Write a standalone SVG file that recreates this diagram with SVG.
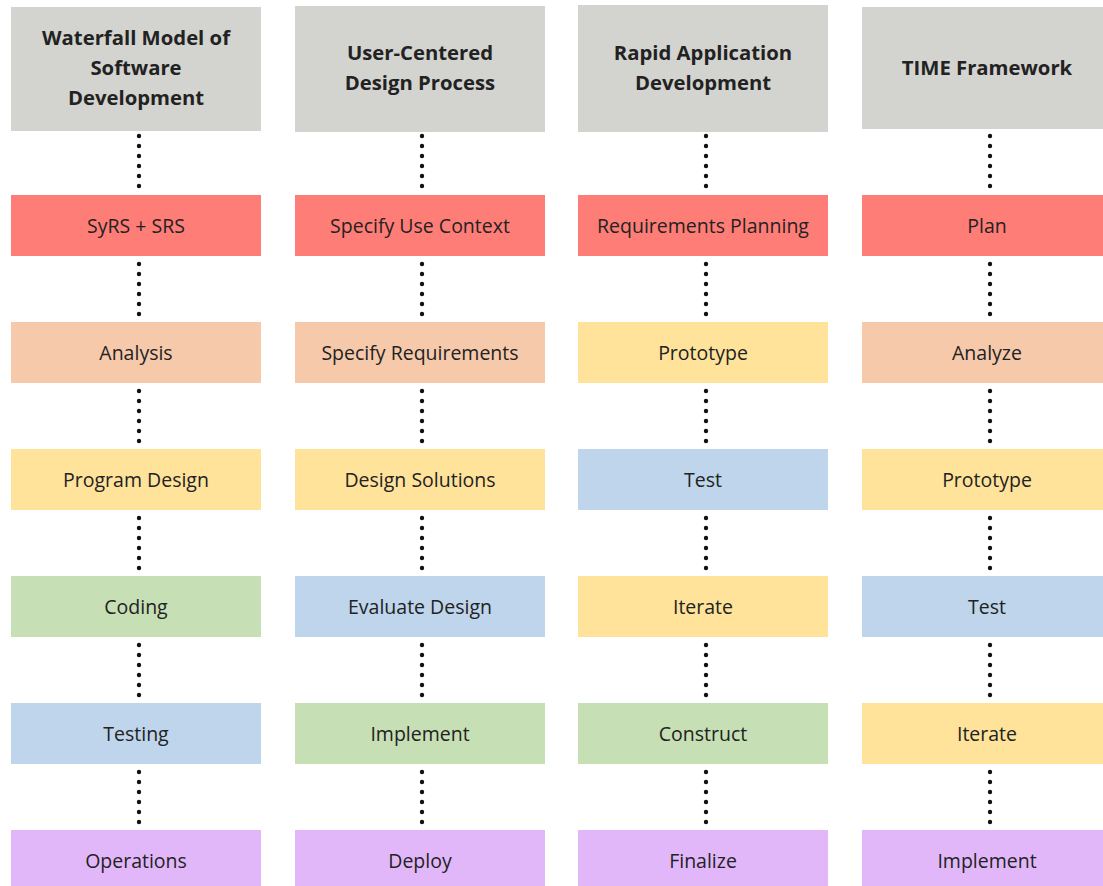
<svg xmlns="http://www.w3.org/2000/svg" width="1103" height="886" viewBox="0 0 1103 886">
<defs>
<style>
.hd{fill:#D3D3CF}
.red{fill:#FF7D77}
.pch{fill:#F6C9AB}
.yel{fill:#FFE39B}
.grn{fill:#C6DFB4}
.blu{fill:#BED5EC}
.pur{fill:#E2B7FA}
.ht{font-family:"Open Sans","Liberation Sans",sans-serif;font-weight:bold;font-size:20.3px;fill:#222;text-anchor:middle}
.bt{font-family:"Open Sans","Liberation Sans",sans-serif;font-size:19.5px;fill:#222;text-anchor:middle}
.dot{fill:#111}
</style>
<g id="dots6">
<circle cx="0" cy="0" r="2.2"/><circle cx="0" cy="10" r="2.2"/><circle cx="0" cy="20" r="2.2"/><circle cx="0" cy="30" r="2.2"/><circle cx="0" cy="40" r="2.2"/><circle cx="0" cy="50" r="2.2"/>
</g>
</defs>
<rect width="1103" height="886" fill="#fff"/>

<g id="connectors" class="dot">
<use href="#dots6" x="139" y="136"/><use href="#dots6" x="139" y="264"/><use href="#dots6" x="139" y="391"/><use href="#dots6" x="139" y="518"/><use href="#dots6" x="139" y="645"/><use href="#dots6" x="139" y="772"/>
<use href="#dots6" x="422" y="136"/><use href="#dots6" x="422" y="264"/><use href="#dots6" x="422" y="391"/><use href="#dots6" x="422" y="518"/><use href="#dots6" x="422" y="645"/><use href="#dots6" x="422" y="772"/>
<use href="#dots6" x="706" y="136"/><use href="#dots6" x="706" y="264"/><use href="#dots6" x="706" y="391"/><use href="#dots6" x="706" y="518"/><use href="#dots6" x="706" y="645"/><use href="#dots6" x="706" y="772"/>
<use href="#dots6" x="990" y="136"/><use href="#dots6" x="990" y="264"/><use href="#dots6" x="990" y="391"/><use href="#dots6" x="990" y="518"/><use href="#dots6" x="990" y="645"/><use href="#dots6" x="990" y="772"/>
</g>

<!-- Column 1 -->
<g id="c1-head"><rect class="hd" x="11" y="7" width="250" height="124"/>
<text class="ht" x="136" y="45">Waterfall Model of</text><text class="ht" x="136" y="75">Software</text><text class="ht" x="136" y="105">Development</text></g>
<g id="c1-n1"><rect class="red" x="11" y="195" width="250" height="61"/><text class="bt" x="136" y="233">SyRS + SRS</text></g>
<g id="c1-n2"><rect class="pch" x="11" y="322" width="250" height="61"/><text class="bt" x="136" y="360">Analysis</text></g>
<g id="c1-n3"><rect class="yel" x="11" y="449" width="250" height="61"/><text class="bt" x="136" y="487">Program Design</text></g>
<g id="c1-n4"><rect class="grn" x="11" y="576" width="250" height="61"/><text class="bt" x="136" y="614">Coding</text></g>
<g id="c1-n5"><rect class="blu" x="11" y="703" width="250" height="61"/><text class="bt" x="136" y="741">Testing</text></g>
<g id="c1-n6"><rect class="pur" x="11" y="830" width="250" height="61"/><text class="bt" x="136" y="868">Operations</text></g>

<!-- Column 2 -->
<g id="c2-head"><rect class="hd" x="295" y="6" width="250" height="126"/>
<text class="ht" x="420" y="60">User-Centered</text><text class="ht" x="420" y="90">Design Process</text></g>
<g id="c2-n1"><rect class="red" x="295" y="195" width="250" height="61"/><text class="bt" x="420" y="233">Specify Use Context</text></g>
<g id="c2-n2"><rect class="pch" x="295" y="322" width="250" height="61"/><text class="bt" x="420" y="360">Specify Requirements</text></g>
<g id="c2-n3"><rect class="yel" x="295" y="449" width="250" height="61"/><text class="bt" x="420" y="487">Design Solutions</text></g>
<g id="c2-n4"><rect class="blu" x="295" y="576" width="250" height="61"/><text class="bt" x="420" y="614">Evaluate Design</text></g>
<g id="c2-n5"><rect class="grn" x="295" y="703" width="250" height="61"/><text class="bt" x="420" y="741">Implement</text></g>
<g id="c2-n6"><rect class="pur" x="295" y="830" width="250" height="61"/><text class="bt" x="420" y="868">Deploy</text></g>

<!-- Column 3 -->
<g id="c3-head"><rect class="hd" x="578" y="5" width="250" height="127"/>
<text class="ht" x="703" y="60">Rapid Application</text><text class="ht" x="703" y="90">Development</text></g>
<g id="c3-n1"><rect class="red" x="578" y="195" width="250" height="61"/><text class="bt" x="703" y="233">Requirements Planning</text></g>
<g id="c3-n2"><rect class="yel" x="578" y="322" width="250" height="61"/><text class="bt" x="703" y="360">Prototype</text></g>
<g id="c3-n3"><rect class="blu" x="578" y="449" width="250" height="61"/><text class="bt" x="703" y="487">Test</text></g>
<g id="c3-n4"><rect class="yel" x="578" y="576" width="250" height="61"/><text class="bt" x="703" y="614">Iterate</text></g>
<g id="c3-n5"><rect class="grn" x="578" y="703" width="250" height="61"/><text class="bt" x="703" y="741">Construct</text></g>
<g id="c3-n6"><rect class="pur" x="578" y="830" width="250" height="61"/><text class="bt" x="703" y="868">Finalize</text></g>

<!-- Column 4 -->
<g id="c4-head"><rect class="hd" x="862" y="7" width="241" height="122"/>
<text class="ht" x="987" y="75">TIME Framework</text></g>
<g id="c4-n1"><rect class="red" x="862" y="195" width="241" height="61"/><text class="bt" x="987" y="233">Plan</text></g>
<g id="c4-n2"><rect class="pch" x="862" y="322" width="241" height="61"/><text class="bt" x="987" y="360">Analyze</text></g>
<g id="c4-n3"><rect class="yel" x="862" y="449" width="241" height="61"/><text class="bt" x="987" y="487">Prototype</text></g>
<g id="c4-n4"><rect class="blu" x="862" y="576" width="241" height="61"/><text class="bt" x="987" y="614">Test</text></g>
<g id="c4-n5"><rect class="yel" x="862" y="703" width="241" height="61"/><text class="bt" x="987" y="741">Iterate</text></g>
<g id="c4-n6"><rect class="pur" x="862" y="830" width="241" height="61"/><text class="bt" x="987" y="868">Implement</text></g>
</svg>
